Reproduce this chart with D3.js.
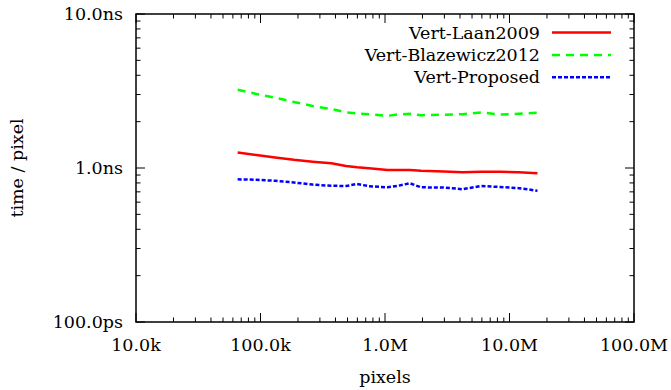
<!DOCTYPE html>
<html>
<head>
<meta charset="utf-8">
<script src="https://cdn.jsdelivr.net/npm/d3@7"></script>
<style>
  body { margin: 0; background: #fff; }
  text { font-family: "DejaVu Serif", serif; }
</style>
</head>
<body>
<svg id="chart" width="671" height="390"></svg>
<script>
// image sizes (pixels) and time per pixel in ns
var pixelCounts = [65536, 92682, 131072, 185364, 262144, 370728, 486000, 596000, 744000,
                   1048576, 1249000, 1588000, 1946000, 2965820, 4194304, 5931642,
                   8388608, 11863283, 16777216];

var laan2009 = [1.261, 1.215, 1.170, 1.130, 1.099, 1.074, 1.030, 1.011, 0.996,
                0.971, 0.971, 0.971, 0.959, 0.949, 0.938, 0.945, 0.945, 0.938, 0.924];

var blazewicz2012 = [3.224, 3.024, 2.861, 2.683, 2.527, 2.416, 2.300, 2.259, 2.235,
                     2.182, 2.222, 2.249, 2.202, 2.218, 2.235, 2.296, 2.225, 2.249, 2.283];

var proposed = [0.845, 0.838, 0.826, 0.805, 0.780, 0.767, 0.764, 0.787, 0.762,
                0.749, 0.764, 0.796, 0.749, 0.747, 0.728, 0.764, 0.753, 0.740, 0.712];

var seriesNames = ["Vert-Laan2009", "Vert-Blazewicz2012", "Vert-Proposed"];
var seriesCols = ["#ff0000", "#00ff00", "#0000ff"];
var seriesDash = [null, "8,6", "4,2"];

var xTickVals = [1e4, 1e5, 1e6, 1e7, 1e8];
var xTickLabels = ["10.0k", "100.0k", "1.0M", "10.0M", "100.0M"];
var yTickVals = [0.1, 1, 10];
var yTickLabels = ["100.0ps", "1.0ns", "10.0ns"];

var FONT_SZE = "17.5px";
var LEFT = 136, RIGHT = 634, TOP = 14, BOTTOM = 322;
var MAJ_LEN = 9, MIN_LEN = 4.5;

var svg = d3.select("#chart");

var scaleX = d3.scaleLog().domain([1e4, 1e8]).range([LEFT, RIGHT]);
var scaleY = d3.scaleLog().domain([0.1, 10]).range([BOTTOM, TOP]);

// minor ticks 2..9 in every decade
function minors(lo, hi) {
    var out = [];
    for (var p = lo; p < hi; p *= 10)
        for (var m = 2; m <= 9; m++) out.push(p * m);
    return out;
}
var xMinor = minors(1e4, 1e8);
var yMinor = minors(0.1, 10);

var ticks = svg.append("g")
    .style("stroke", "#000")
    .style("stroke-width", 1);

// x ticks, bottom and top, pointing inward
function xTick(v, len) {
    var x = scaleX(v);
    ticks.append("line").attr("x1", x).attr("x2", x).attr("y1", BOTTOM).attr("y2", BOTTOM - len);
    ticks.append("line").attr("x1", x).attr("x2", x).attr("y1", TOP).attr("y2", TOP + len);
}
function yTick(v, len) {
    var y = scaleY(v);
    ticks.append("line").attr("x1", LEFT).attr("x2", LEFT + len).attr("y1", y).attr("y2", y);
    ticks.append("line").attr("x1", RIGHT).attr("x2", RIGHT - len).attr("y1", y).attr("y2", y);
}
xTickVals.forEach(function(v) { xTick(v, MAJ_LEN); });
xMinor.forEach(function(v) { xTick(v, MIN_LEN); });
yTickVals.forEach(function(v) { yTick(v, MAJ_LEN); });
yMinor.forEach(function(v) { yTick(v, MIN_LEN); });

// data lines
var line = d3.line()
    .x(function(d, i) { return scaleX(pixelCounts[i]); })
    .y(function(d) { return scaleY(d); });

var allSeries = [laan2009, blazewicz2012, proposed];

svg.selectAll(".series")
    .data(allSeries)
    .enter()
    .append("path")
    .attr("class", "series")
    .attr("d", function(d) { return line(d); })
    .style("fill", "none")
    .style("stroke", function(d, i) { return seriesCols[i]; })
    .style("stroke-width", 2.5)
    .style("stroke-dasharray", function(d, i) { return seriesDash[i]; });

// border
svg.append("rect")
    .attr("x", LEFT)
    .attr("y", TOP)
    .attr("width", RIGHT - LEFT)
    .attr("height", BOTTOM - TOP)
    .style("fill", "none")
    .style("stroke", "#000")
    .style("stroke-width", 1.5);

// tick labels
svg.selectAll(".xLab")
    .data(xTickVals)
    .enter()
    .append("text")
    .attr("class", "xLab")
    .attr("x", function(d) { return scaleX(d); })
    .attr("y", 351)
    .attr("text-anchor", "middle")
    .style("font-size", FONT_SZE)
    .text(function(d, i) { return xTickLabels[i]; });

svg.selectAll(".yLab")
    .data(yTickVals)
    .enter()
    .append("text")
    .attr("class", "yLab")
    .attr("x", 123)
    .attr("y", function(d) { return scaleY(d) + 6; })
    .attr("text-anchor", "end")
    .style("font-size", FONT_SZE)
    .text(function(d, i) { return yTickLabels[i]; });

// axis titles
svg.append("text")
    .attr("x", 385)
    .attr("y", 383)
    .attr("text-anchor", "middle")
    .style("font-size", FONT_SZE)
    .text("pixels");

svg.append("text")
    .attr("transform", "translate(23," + ((TOP + BOTTOM) / 2) + ") rotate(-90)")
    .attr("text-anchor", "middle")
    .style("font-size", FONT_SZE)
    .text("time / pixel");

// legend
var legend = svg.append("g");
seriesNames.forEach(function(name, i) {
    var y = 32.5 + i * 22.4;
    legend.append("text")
        .attr("x", 540)
        .attr("y", y + 6)
        .attr("text-anchor", "end")
        .style("font-size", FONT_SZE)
        .text(name);
    legend.append("line")
        .attr("x1", 552)
        .attr("x2", 611)
        .attr("y1", y)
        .attr("y2", y)
        .style("stroke", seriesCols[i])
        .style("stroke-width", 2.5)
        .style("stroke-dasharray", seriesDash[i]);
});
</script>
</body>
</html>
